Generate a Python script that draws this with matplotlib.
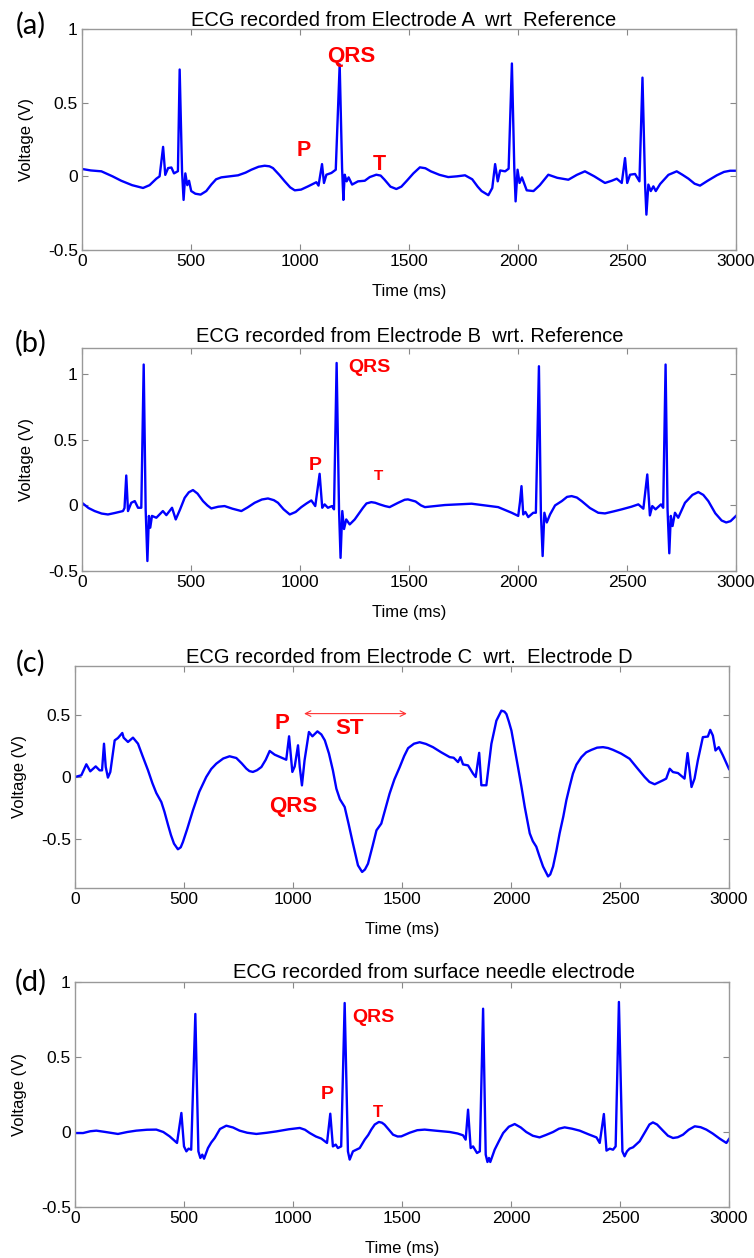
import numpy as np
import matplotlib
matplotlib.use('Agg')
import matplotlib.pyplot as plt

plt.rcParams['font.family'] = ['Liberation Sans', 'DejaVu Sans']

# (time ms, voltage V)
pts_a = [(0, 0.05), (40, 0.04), (89, 0.034), (140, 0.0), (180, -0.03), (230, -0.06), (280, -0.079),
         (310, -0.06), (341, -0.016), (356, 0.0), (372, 0.20), (382, 0.01), (395, 0.056), (410, 0.06),
         (422, 0.02), (440, 0.035), (448, 0.725), (459, 0.03), (466, -0.16), (474, 0.02), (483, -0.06),
         (491, -0.03), (501, -0.10), (520, -0.118), (544, -0.124), (570, -0.1), (593, -0.056),
         (615, -0.02), (639, -0.007), (716, 0.007), (750, 0.025), (777, 0.045), (810, 0.065),
         (838, 0.072), (860, 0.068), (876, 0.056), (905, 0.01), (930, -0.034), (955, -0.075),
         (976, -0.095), (1005, -0.09), (1037, -0.068), (1075, -0.04), (1085, -0.063), (1101, 0.083),
         (1110, -0.045), (1121, 0.011), (1144, 0.023), (1164, 0.045), (1182, 0.76), (1193, 0.056),
         (1199, -0.16), (1205, 0.011), (1214, -0.034), (1223, -0.007), (1239, -0.056), (1266, -0.034),
         (1297, -0.03), (1320, -0.005), (1350, 0.011), (1370, 0.005), (1388, -0.023), (1415, -0.07),
         (1442, -0.086), (1465, -0.07), (1490, -0.03), (1520, 0.02), (1550, 0.061), (1575, 0.055),
         (1600, 0.034), (1640, 0.01), (1680, -0.005), (1720, 0.0), (1757, 0.007), (1790, -0.02),
         (1815, -0.07), (1833, -0.10), (1864, -0.128), (1882, -0.079), (1895, 0.083), (1907, -0.034),
         (1918, 0.04), (1941, 0.034), (1957, 0.052), (1972, 0.766), (1983, 0.056), (1989, -0.17),
         (1998, 0.045), (2007, -0.045), (2018, -0.007), (2040, -0.095), (2071, -0.10), (2100, -0.06),
         (2139, 0.011), (2180, -0.01), (2231, -0.023), (2270, 0.01), (2307, 0.034), (2350, 0.0),
         (2399, -0.045), (2430, -0.03), (2453, -0.016), (2476, -0.045), (2491, 0.124), (2501, -0.045),
         (2514, 0.011), (2537, 0.016), (2557, -0.034), (2571, 0.67), (2583, -0.056), (2589, -0.26),
         (2598, -0.056), (2609, -0.10), (2621, -0.068), (2632, -0.10), (2652, -0.052), (2690, 0.01),
         (2728, 0.034), (2755, 0.01), (2782, -0.016), (2810, -0.05), (2835, -0.063), (2870, -0.03),
         (2912, 0.007), (2945, 0.03), (2973, 0.038), (3000, 0.038)]

pts_b = [(0, 0.02), (30, -0.02), (58, -0.043), (90, -0.062), (119, -0.069), (150, -0.058), (188, -0.043),
         (195, -0.02), (203, 0.228), (211, -0.043), (226, 0.02), (242, 0.033), (257, -0.018),
         (272, -0.018), (283, 1.074), (292, -0.03), (300, -0.424), (307, -0.08), (313, -0.17),
         (321, -0.08), (341, -0.094), (371, -0.043), (387, -0.074), (413, -0.018), (430, -0.107),
         (450, -0.03), (471, 0.058), (490, 0.1), (509, 0.117), (530, 0.09), (555, 0.033), (575, 0.0),
         (593, -0.023), (625, -0.01), (654, -0.005), (690, -0.025), (731, -0.043), (760, -0.015),
         (792, 0.02), (825, 0.045), (853, 0.053), (880, 0.04), (899, 0.02), (925, -0.03), (953, -0.069),
         (980, -0.05), (1006, -0.013), (1030, 0.015), (1052, 0.038), (1070, -0.005), (1090, 0.241),
         (1102, -0.018), (1113, 0.008), (1128, -0.018), (1147, -0.005), (1156, -0.03), (1168, 1.086),
         (1179, -0.03), (1186, -0.40), (1194, -0.043), (1202, -0.18), (1212, -0.107), (1228, -0.145),
         (1251, -0.107), (1289, -0.018), (1305, 0.015), (1327, 0.025), (1345, 0.02), (1365, 0.008),
         (1390, -0.005), (1411, -0.013), (1450, 0.02), (1480, 0.043), (1495, 0.046), (1530, 0.03),
         (1555, 0.0), (1573, -0.013), (1665, 0.003), (1787, 0.013), (1909, -0.013), (1971, -0.056),
         (2001, -0.08), (2009, 0.025), (2016, 0.147), (2024, -0.069), (2034, -0.05), (2047, -0.089),
         (2070, -0.056), (2082, -0.056), (2096, 1.061), (2105, -0.056), (2113, -0.386), (2121, -0.056),
         (2132, -0.13), (2147, -0.069), (2170, 0.0), (2201, 0.033), (2225, 0.065), (2246, 0.071),
         (2270, 0.06), (2292, 0.033), (2330, -0.02), (2368, -0.056), (2399, -0.061), (2440, -0.045),
         (2476, -0.03), (2520, -0.01), (2552, 0.008), (2575, -0.025), (2593, 0.236), (2605, -0.076),
         (2616, -0.005), (2631, -0.03), (2656, 0.008), (2666, -0.018), (2677, 1.074), (2686, -0.03),
         (2694, -0.365), (2701, -0.08), (2709, -0.157), (2720, -0.056), (2735, -0.094), (2766, 0.02),
         (2800, 0.08), (2827, 0.102), (2850, 0.08), (2873, 0.033), (2905, -0.06), (2934, -0.115),
         (2955, -0.13), (2975, -0.12), (3000, -0.08)]

pts_c = [(0, 0.0), (29, 0.014), (52, 0.103), (70, 0.046), (95, 0.086), (113, 0.054), (124, 0.054),
         (133, 0.27), (141, 0.081), (151, -0.005), (162, 0.041), (182, 0.297), (197, 0.316), (217, 0.357),
         (223, 0.319), (243, 0.284), (266, 0.319), (289, 0.27), (310, 0.17), (335, 0.054), (355, -0.05),
         (373, -0.13), (396, -0.203), (410, -0.28), (427, -0.39), (440, -0.47), (454, -0.54),
         (472, -0.586), (485, -0.57), (495, -0.527), (515, -0.42), (541, -0.27), (570, -0.12), (602, 0.0),
         (625, 0.065), (648, 0.108), (680, 0.15), (709, 0.168), (740, 0.154), (765, 0.11), (786, 0.068),
         (800, 0.048), (816, 0.041), (835, 0.055), (855, 0.081), (875, 0.14), (893, 0.211), (916, 0.181),
         (969, 0.14), (982, 0.33), (997, 0.041), (1008, 0.086), (1023, 0.257), (1031, 0.081),
         (1041, -0.068), (1053, 0.135), (1073, 0.365), (1089, 0.33), (1112, 0.37), (1130, 0.345),
         (1146, 0.297), (1165, 0.19), (1183, 0.054), (1199, -0.095), (1215, -0.18), (1237, -0.243),
         (1255, -0.38), (1275, -0.54), (1298, -0.716), (1317, -0.77), (1330, -0.75), (1344, -0.703),
         (1365, -0.56), (1383, -0.432), (1405, -0.378), (1425, -0.25), (1443, -0.135), (1465, -0.02),
         (1489, 0.078), (1510, 0.17), (1528, 0.234), (1555, 0.27), (1581, 0.282), (1610, 0.268),
         (1642, 0.242), (1680, 0.2), (1719, 0.161), (1737, 0.156), (1757, 0.121), (1768, 0.161),
         (1780, 0.102), (1803, 0.094), (1826, 0.027), (1838, 0.0), (1854, 0.196), (1864, -0.067),
         (1887, -0.067), (1910, 0.269), (1933, 0.457), (1956, 0.538), (1970, 0.53), (1979, 0.51),
         (1990, 0.45), (2002, 0.376), (2015, 0.25), (2032, 0.081), (2048, -0.08), (2063, -0.242),
         (2086, -0.457), (2100, -0.52), (2116, -0.565), (2130, -0.64), (2147, -0.726), (2170, -0.806),
         (2180, -0.79), (2193, -0.726), (2208, -0.6), (2223, -0.457), (2240, -0.32), (2254, -0.188),
         (2270, -0.07), (2284, 0.027), (2300, 0.1), (2323, 0.161), (2345, 0.2), (2369, 0.22),
         (2395, 0.238), (2422, 0.242), (2445, 0.235), (2468, 0.22), (2505, 0.19), (2544, 0.148),
         (2580, 0.07), (2613, 0.0), (2635, -0.04), (2659, -0.059), (2697, -0.027), (2712, -0.013),
         (2728, 0.067), (2743, 0.04), (2766, 0.032), (2796, -0.013), (2810, 0.194), (2819, 0.054),
         (2828, -0.081), (2842, -0.013), (2857, 0.134), (2880, 0.323), (2903, 0.328), (2914, 0.382),
         (2926, 0.336), (2938, 0.215), (2953, 0.242), (2972, 0.175), (3000, 0.065)]

pts_d = [(0, -0.007), (37, -0.007), (70, 0.005), (98, 0.009), (140, 0.0), (197, -0.013), (240, 0.0),
         (281, 0.009), (330, 0.015), (373, 0.016), (405, 0.0), (434, -0.029), (468, -0.073), (488, 0.127),
         (500, -0.096), (511, -0.129), (521, -0.111), (533, -0.118), (552, 0.787), (566, -0.129),
         (575, -0.173), (584, -0.151), (592, -0.178), (610, -0.107), (625, -0.07), (641, -0.04),
         (665, 0.02), (694, 0.042), (725, 0.03), (755, 0.009), (790, -0.005), (832, -0.013),
         (880, -0.005), (924, 0.004), (980, 0.018), (1031, 0.027), (1055, 0.015), (1077, -0.007),
         (1105, -0.03), (1130, -0.044), (1156, -0.073), (1171, 0.122), (1183, -0.096), (1196, -0.084),
         (1206, -0.107), (1221, -0.096), (1237, 0.86), (1252, -0.129), (1260, -0.184), (1275, -0.129),
         (1306, -0.107), (1329, -0.051), (1345, -0.02), (1359, 0.016), (1375, 0.05), (1394, 0.067),
         (1408, 0.062), (1420, 0.049), (1440, 0.015), (1459, -0.018), (1480, -0.03), (1497, -0.029),
         (1535, -0.005), (1570, 0.012), (1604, 0.016), (1660, 0.008), (1719, 0.0), (1755, -0.01),
         (1780, -0.022), (1792, -0.051), (1803, 0.149), (1815, -0.107), (1826, -0.096), (1844, -0.14),
         (1857, -0.129), (1872, 0.822), (1884, -0.151), (1892, -0.2), (1899, -0.173), (1905, -0.2),
         (1925, -0.118), (1945, -0.06), (1964, -0.007), (1990, 0.035), (2017, 0.053), (2045, 0.03),
         (2070, 0.0), (2100, -0.025), (2131, -0.036), (2160, -0.02), (2193, 0.0), (2220, 0.022),
         (2246, 0.031), (2280, 0.022), (2315, 0.009), (2355, -0.015), (2392, -0.036), (2407, -0.073),
         (2426, 0.12), (2438, -0.124), (2453, -0.111), (2468, -0.118), (2480, -0.096), (2495, 0.867),
         (2511, -0.129), (2521, -0.162), (2532, -0.129), (2544, -0.111), (2560, -0.102), (2590, -0.062),
         (2615, 0.0), (2635, 0.05), (2651, 0.064), (2670, 0.05), (2697, 0.009), (2720, -0.025),
         (2743, -0.04), (2765, -0.035), (2789, -0.018), (2815, 0.015), (2843, 0.038), (2870, 0.032),
         (2896, 0.016), (2925, -0.01), (2957, -0.044), (2988, -0.073), (3000, -0.047)]

titles = ['ECG recorded from Electrode A  wrt  Reference',
          'ECG recorded from Electrode B  wrt. Reference',
          'ECG recorded from Electrode C  wrt.  Electrode D',
          'ECG recorded from surface needle electrode']
panel_labels = ['(a)', '(b)', '(c)', '(d)']
ylims = [(-0.5, 1), (-0.5, 1.2), (-0.9, 0.9), (-0.5, 1)]
yticks = [[-0.5, 0, 0.5, 1], [-0.5, 0, 0.5, 1], [-0.5, 0, 0.5], [-0.5, 0, 0.5, 1]]
xticks = [0, 500, 1000, 1500, 2000, 2500, 3000]

# red labels: text, x (ms), y (V), fontsize
notes = [
    [('QRS', 1235, 0.815, 16), ('P', 1018, 0.173, 15.5), ('T', 1365, 0.079, 15.5)],
    [('QRS', 1320, 1.048, 14), ('P', 1070, 0.305, 14), ('T', 1358, 0.223, 11)],
    [('P', 950, 0.432, 16), ('ST', 1260, 0.39, 16), ('QRS', 1000, -0.243, 16)],
    [('QRS', 1370, 0.764, 14), ('P', 1157, 0.253, 14), ('T', 1390, 0.127, 12)],
]

W, H = 754, 1258
fig = plt.figure(figsize=(W / 100, H / 100), dpi=100)

# axes boxes in pixels: left, top, right, bottom
boxes = [(82, 29, 736, 250), (82, 348, 736, 571), (75, 666, 729, 888), (75, 982, 729, 1207)]
title_y = [20, 337, 657, 973]
title_x = [404, 410, 409, 434]
label_y = [25, 343, 663, 982]

series = [pts_a, pts_b, pts_c, pts_d]

for i in range(4):
    l, t, r, b = boxes[i]
    ax = fig.add_axes([l / W, 1 - b / H, (r - l) / W, (b - t) / H])
    tt, vv = zip(*series[i])
    ax.plot(tt, vv, color='#0000ff', lw=1.7, solid_joinstyle='round')
    ax.set_xlim(0, 3000)
    ax.set_ylim(*ylims[i])
    ax.set_xticks(xticks)
    ax.set_yticks(yticks[i])
    ax.set_yticklabels(['%g' % v for v in yticks[i]])
    ax.tick_params(direction='in', top=True, right=True, length=4, color='#888888',
                   labelsize=12.5, pad=3)
    for s in ax.spines.values():
        s.set_color('#999999')
        s.set_linewidth(1)
    ax.set_xlabel('Time (ms)', fontsize=12, labelpad=11)
    ax.set_ylabel('Voltage (V)', fontsize=12, labelpad=10)
    fig.text(title_x[i] / W, 1 - title_y[i] / H, titles[i], ha='center', va='center', fontsize=14.5)
    fig.text(31 / W, 1 - label_y[i] / H, panel_labels[i], ha='center', va='center',
             fontsize=21, family=['Lato', 'DejaVu Sans'])
    for txt, x, y, fs in notes[i]:
        ax.text(x, y, txt, color='#ff0000', fontsize=fs, fontweight='bold', ha='center', va='center')
    if i == 2:
        ax.annotate('', xy=(1535, 0.514), xytext=(1038, 0.514),
                    arrowprops=dict(arrowstyle='<->', color='#ff3333', lw=0.8))

fig.savefig('out.png', dpi=100)
